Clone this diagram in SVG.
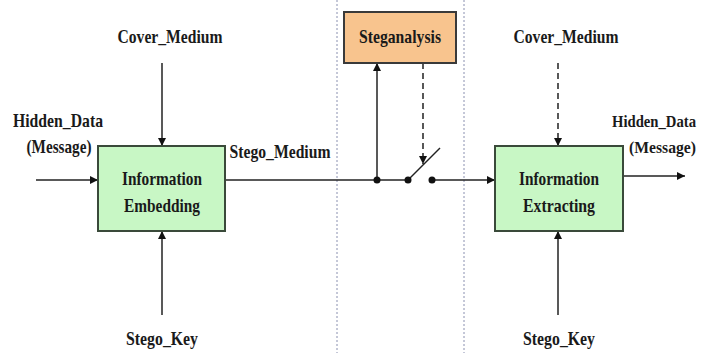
<svg xmlns="http://www.w3.org/2000/svg" width="707" height="353" viewBox="0 0 707 353">
<defs>
<marker id="ah" viewBox="0 0 10 10" refX="10" refY="5" markerWidth="8" markerHeight="8" markerUnits="userSpaceOnUse" orient="auto">
<path d="M0,0 L10,5 L0,10 z" fill="#111"/>
</marker>
</defs>
<style>
text{font-family:"Liberation Serif","Times New Roman",serif;font-weight:bold;font-size:19px;fill:#1a1a1a;text-anchor:middle}
.box-g{fill:#c8f7c5;stroke:#3a4a3a;stroke-width:2}
.box-o{fill:#f8c48e;stroke:#3a3a3a;stroke-width:2}
.ln{stroke:#222;stroke-width:1.5;fill:none}
.dash{stroke:#222;stroke-width:1.5;fill:none;stroke-dasharray:6,4}
.sep{stroke:#8a90b0;stroke-width:1;stroke-dasharray:2,2;fill:none}
.dot{fill:#111}
text.r{text-anchor:start;font-size:17px}
</style>
<rect width="707" height="353" fill="#fff"/>
<g id="separators">
<line class="sep" x1="337" y1="0" x2="337" y2="353"/>
<line class="sep" x1="464" y1="0" x2="464" y2="353"/>
</g>
<g id="connectors">
<line class="ln" x1="36" y1="180" x2="98" y2="180" marker-end="url(#ah)"/>
<line class="ln" x1="162" y1="63" x2="162" y2="146" marker-end="url(#ah)"/>
<line class="ln" x1="162" y1="315" x2="162" y2="231" marker-end="url(#ah)"/>
<line class="ln" x1="225" y1="180" x2="408" y2="180"/>
<line class="ln" x1="377" y1="180" x2="377" y2="63" marker-end="url(#ah)"/>
<line class="ln" x1="408" y1="180" x2="440" y2="148"/>
<line class="dash" x1="423" y1="63" x2="423" y2="164" marker-end="url(#ah)"/>
<line class="ln" x1="432" y1="180" x2="495" y2="180" marker-end="url(#ah)"/>
<line class="dash" x1="558" y1="63" x2="558" y2="146" marker-end="url(#ah)"/>
<line class="ln" x1="558" y1="315" x2="558" y2="231" marker-end="url(#ah)"/>
<line class="ln" x1="623" y1="176" x2="685" y2="176" marker-end="url(#ah)"/>
<circle class="dot" cx="377" cy="180" r="3.5"/>
<circle class="dot" cx="408" cy="180" r="3.5"/>
<circle class="dot" cx="432" cy="180" r="3.5"/>
</g>
<g id="embedding">
<rect class="box-g" x="98" y="146" width="127" height="85"/>
<text x="162" y="185" textLength="80" lengthAdjust="spacingAndGlyphs">Information</text>
<text x="162" y="212" textLength="76" lengthAdjust="spacingAndGlyphs">Embedding</text>
</g>
<g id="extracting">
<rect class="box-g" x="495" y="146" width="128" height="85"/>
<text x="559" y="185" textLength="80" lengthAdjust="spacingAndGlyphs">Information</text>
<text x="559" y="212" textLength="72" lengthAdjust="spacingAndGlyphs">Extracting</text>
</g>
<g id="steganalysis">
<rect class="box-o" x="344" y="12" width="112" height="51"/>
<text x="400" y="43" textLength="82" lengthAdjust="spacingAndGlyphs">Steganalysis</text>
</g>
<g id="labels">
<text x="170" y="43" textLength="105" lengthAdjust="spacingAndGlyphs">Cover_Medium</text>
<text x="566" y="43" textLength="105" lengthAdjust="spacingAndGlyphs">Cover_Medium</text>
<text x="58" y="127" textLength="90" lengthAdjust="spacingAndGlyphs">Hidden_Data</text>
<text x="59" y="153" textLength="65" lengthAdjust="spacingAndGlyphs">(Message)</text>
<text x="280" y="158" textLength="101" lengthAdjust="spacingAndGlyphs">Stego_Medium</text>
<text class="r" x="612" y="127" textLength="84" lengthAdjust="spacingAndGlyphs">Hidden_Data</text>
<text class="r" x="629" y="153" textLength="67" lengthAdjust="spacingAndGlyphs">(Message)</text>
<text x="162" y="345" textLength="72" lengthAdjust="spacingAndGlyphs">Stego_Key</text>
<text x="559" y="345" textLength="72" lengthAdjust="spacingAndGlyphs">Stego_Key</text>
</g>
</svg>
